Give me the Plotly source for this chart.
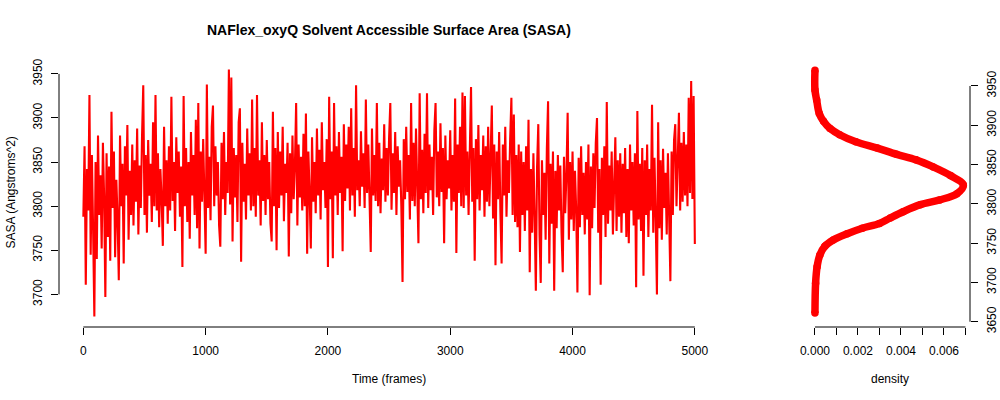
import plotly.graph_objects as go

# ---------------- data ----------------
frames = list(range(0, 5001, 10))
sasa = [
 3788, 3868, 3711, 3842, 3795, 3926, 3745, 3858, 3772, 3675,
 3850, 3740, 3880, 3790, 3835, 3752, 3872, 3810, 3697, 3860,
 3765, 3845, 3738, 3907, 3798, 3862, 3742, 3830, 3785, 3716,
 3880, 3800, 3848, 3735, 3868, 3812, 3892, 3762, 3840, 3790,
 3870, 3778, 3852, 3805, 3888, 3768, 3846, 3798, 3880, 3937,
 3790, 3858, 3770, 3875, 3812, 3848, 3782, 3895, 3800, 3926,
 3795, 3860, 3776, 3842, 3808, 3755, 3890, 3800, 3852, 3780,
 3868, 3795, 3924, 3806, 3850, 3772, 3878, 3815, 3862, 3788,
 3845, 3731, 3925, 3800, 3866, 3782, 3850, 3763, 3884, 3812,
 3858, 3790, 3898, 3775, 3917, 3752, 3862, 3805, 3876, 3795,
 3746, 3938, 3798, 3856, 3784, 3890, 3914, 3800, 3868, 3812,
 3850, 3778, 3754, 3872, 3808, 3884, 3790, 3850, 3815, 3955,
 3802, 3946, 3760, 3866, 3810, 3858, 3782, 3895, 3911, 3737,
 3872, 3805, 3848, 3785, 3888, 3812, 3860, 3795, 3921, 3800,
 3866, 3788, 3926, 3812, 3852, 3778, 3895, 3806, 3858, 3790,
 3875, 3808, 3850, 3780, 3760, 3907, 3800, 3866, 3750, 3884,
 3798, 3862, 3812, 3890, 3783, 3848, 3815, 3872, 3743, 3860,
 3792, 3880, 3808, 3846, 3917, 3778, 3870, 3810, 3856, 3795,
 3882, 3800, 3905, 3746, 3862, 3815, 3752, 3878, 3805, 3850,
 3792, 3888, 3812, 3864, 3785, 3895, 3818, 3850, 3798, 3876,
 3731, 3924, 3808, 3862, 3741, 3917, 3812, 3868, 3790, 3884,
 3815, 3856, 3749, 3893, 3806, 3870, 3820, 3890, 3795, 3911,
 3812, 3866, 3788, 3937, 3818, 3852, 3800, 3885, 3822, 3860,
 3798, 3921, 3815, 3870, 3790, 3748, 3888, 3812, 3858, 3806,
 3917, 3800, 3872, 3792, 3854, 3818, 3893, 3805, 3866, 3812,
 3878, 3917, 3796, 3860, 3815, 3884, 3790, 3868, 3822, 3852,
 3800, 3714, 3876, 3808, 3890, 3816, 3858, 3785, 3917, 3806,
 3872, 3800, 3888, 3820, 3758, 3928, 3808, 3864, 3792, 3882,
 3815, 3928, 3798, 3870, 3818, 3856, 3790, 3886, 3917, 3810,
 3862, 3800, 3894, 3816, 3866, 3758, 3880, 3808, 3852, 3820,
 3886, 3795, 3858, 3805, 3922, 3747, 3870, 3815, 3890, 3800,
 3929, 3798, 3925, 3812, 3862, 3790, 3884, 3935, 3805, 3866,
 3738, 3876, 3808, 3892, 3795, 3858, 3818, 3880, 3788, 3868,
 3805, 3890, 3800, 3856, 3914, 3786, 3870, 3733, 3862, 3808,
 3884, 3794, 3735, 3870, 3812, 3890, 3788, 3852, 3815, 3876,
 3923, 3790, 3904, 3782, 3858, 3776, 3870, 3748, 3862, 3790,
 3850, 3772, 3868, 3795, 3898, 3725, 3842, 3770, 3860, 3788,
 3704, 3845, 3893, 3768, 3713, 3852, 3790, 3838, 3762, 3866,
 3919, 3735, 3848, 3780, 3862, 3704, 3840, 3775, 3858, 3795,
 3846, 3770, 3725, 3856, 3792, 3835, 3906, 3762, 3850, 3785,
 3862, 3772, 3840, 3795, 3702, 3855, 3776, 3868, 3790, 3838,
 3768, 3850, 3785, 3870, 3699, 3845, 3775, 3860, 3798, 3872,
 3900, 3770, 3842, 3711, 3855, 3790, 3868, 3765, 3918, 3780,
 3846, 3795, 3862, 3768, 3835, 3878, 3772, 3852, 3788, 3860,
 3770, 3848, 3792, 3866, 3765, 3842, 3758, 3870, 3795, 3850,
 3778, 3860, 3708, 3908, 3785, 3848, 3772, 3866, 3721, 3852,
 3790, 3870, 3765, 3842, 3795, 3915, 3770, 3855, 3785, 3700,
 3895, 3775, 3852, 3762, 3865, 3798, 3838, 3768, 3860, 3785,
 3715, 3862, 3790, 3875, 3893, 3800, 3868, 3906, 3795, 3872,
 3805, 3884, 3812, 3870, 3800, 3923, 3815, 3942, 3808, 3925,
 3757,
]

dens_sasa = [3661, 3699, 3720, 3735, 3746, 3754, 3762, 3769, 3775, 3782,
             3790, 3799, 3805, 3813, 3824, 3836, 3847, 3856, 3863, 3871,
             3879, 3888, 3896, 3905, 3915, 3932, 3945, 3970]
dens_val = [0.0, 0.00003, 0.0001, 0.00023, 0.00046, 0.00085, 0.0015, 0.0022, 0.0030, 0.0035,
            0.0041, 0.0049, 0.0058, 0.0066, 0.0069, 0.0063, 0.0055, 0.0047, 0.0038, 0.0029,
            0.0019, 0.00115, 0.0007, 0.0004, 0.0002, 0.00008, 0.0, 0.0]

time_ticks = [0, 1000, 2000, 3000, 4000, 5000]
sasa_ticks_left = [3700, 3750, 3800, 3850, 3900, 3950]
sasa_ticks_right = [3650, 3700, 3750, 3800, 3850, 3900, 3950]
dens_ticks = [0.000, 0.001, 0.002, 0.003, 0.004, 0.005, 0.006, 0.007]
dens_ticktext = ["0.000", "", "0.002", "", "0.004", "", "0.006", ""]

title = "NAFlex_oxyQ Solvent Accessible Surface Area (SASA)"

# ---------------- figure ----------------
W, H = 1000, 400
FONT = "Liberation Sans, Arial, Helvetica, sans-serif"
RED = "#FF0000"

def px_x(p):
    return p / W

def px_y(p):
    return 1 - p / H

top_px, bot_px = 58, 327
ydom = [px_y(bot_px), px_y(top_px)]

fig = go.Figure()
fig.add_trace(go.Scatter(x=frames, y=sasa, mode="lines",
                         line=dict(color=RED, width=2.1),
                         xaxis="x", yaxis="y", hoverinfo="skip",
                         showlegend=False))
fig.add_trace(go.Scatter(x=dens_val, y=dens_sasa, mode="lines+markers",
                         line=dict(color=RED, width=7.5, shape="spline"),
                         marker=dict(color=RED, size=7.5),
                         xaxis="x2", yaxis="y2", hoverinfo="skip",
                         showlegend=False))

axis_common = dict(showgrid=False, zeroline=False, showline=False, automargin=False,
                   ticks="outside", ticklen=7, tickwidth=1, tickcolor="black",
                   tickfont=dict(family=FONT, size=12, color="black"))

fig.update_layout(
    width=W, height=H,
    margin=dict(l=0, r=0, t=0, b=0, autoexpand=False),
    paper_bgcolor="white", plot_bgcolor="white",
    xaxis=dict(domain=[px_x(59), px_x(719.3)], range=[-199, 5200],
               tickvals=time_ticks, anchor="y", ticklabelstandoff=6,
               **axis_common),
    yaxis=dict(domain=ydom, range=[3663, 3968], tickvals=sasa_ticks_left,
               tickangle=-90, anchor="x", ticklabelstandoff=4, **axis_common),
    xaxis2=dict(domain=[px_x(809), px_x(970)], range=[-0.000277, 0.00721],
                tickvals=dens_ticks, ticktext=dens_ticktext, anchor="y2",
                ticklabelstandoff=6, **axis_common),
    yaxis2=dict(domain=ydom, range=[3643.3, 3985.6], tickvals=sasa_ticks_right,
                tickangle=-90, anchor="x2", side="right", ticklabelstandoff=4,
                **axis_common),
)

# R-style axis lines spanning only first..last tick
shapes = []
shapes.append(dict(type="line", xref="x", yref="paper",
                   x0=min(time_ticks), x1=max(time_ticks), y0=ydom[0], y1=ydom[0],
                   line=dict(color="black", width=1)))
shapes.append(dict(type="line", xref="paper", yref="y",
                   x0=px_x(59), x1=px_x(59), y0=min(sasa_ticks_left), y1=max(sasa_ticks_left),
                   line=dict(color="black", width=1)))
shapes.append(dict(type="line", xref="x2", yref="paper",
                   x0=min(dens_ticks), x1=max(dens_ticks), y0=ydom[0], y1=ydom[0],
                   line=dict(color="black", width=1)))
shapes.append(dict(type="line", xref="paper", yref="y2",
                   x0=px_x(970), x1=px_x(970), y0=min(sasa_ticks_right), y1=max(sasa_ticks_right),
                   line=dict(color="black", width=1)))
fig.update_layout(shapes=shapes)

annotations = [
    dict(text="<b>" + title + "</b>", x=px_x(389), y=px_y(30), xref="paper", yref="paper",
         showarrow=False, font=dict(family=FONT, size=14, color="black"),
         xanchor="center", yanchor="middle"),
    dict(text="Time (frames)", x=px_x(389), y=px_y(379), xref="paper", yref="paper",
         showarrow=False, font=dict(family=FONT, size=12, color="black"),
         xanchor="center", yanchor="middle"),
    dict(text="density", x=px_x(889.5), y=px_y(379), xref="paper", yref="paper",
         showarrow=False, font=dict(family=FONT, size=12, color="black"),
         xanchor="center", yanchor="middle"),
    dict(text="SASA (Angstroms^2)", x=px_x(11), y=px_y(192.5), xref="paper", yref="paper",
         showarrow=False, textangle=-90, font=dict(family=FONT, size=12, color="black"),
         xanchor="center", yanchor="middle"),
]
fig.update_layout(annotations=annotations)

fig.write_html("out.html", config={"displayModeBar": False},
               post_script="document.body.style.margin='0';document.body.style.padding='0';document.body.style.overflow='hidden';")
